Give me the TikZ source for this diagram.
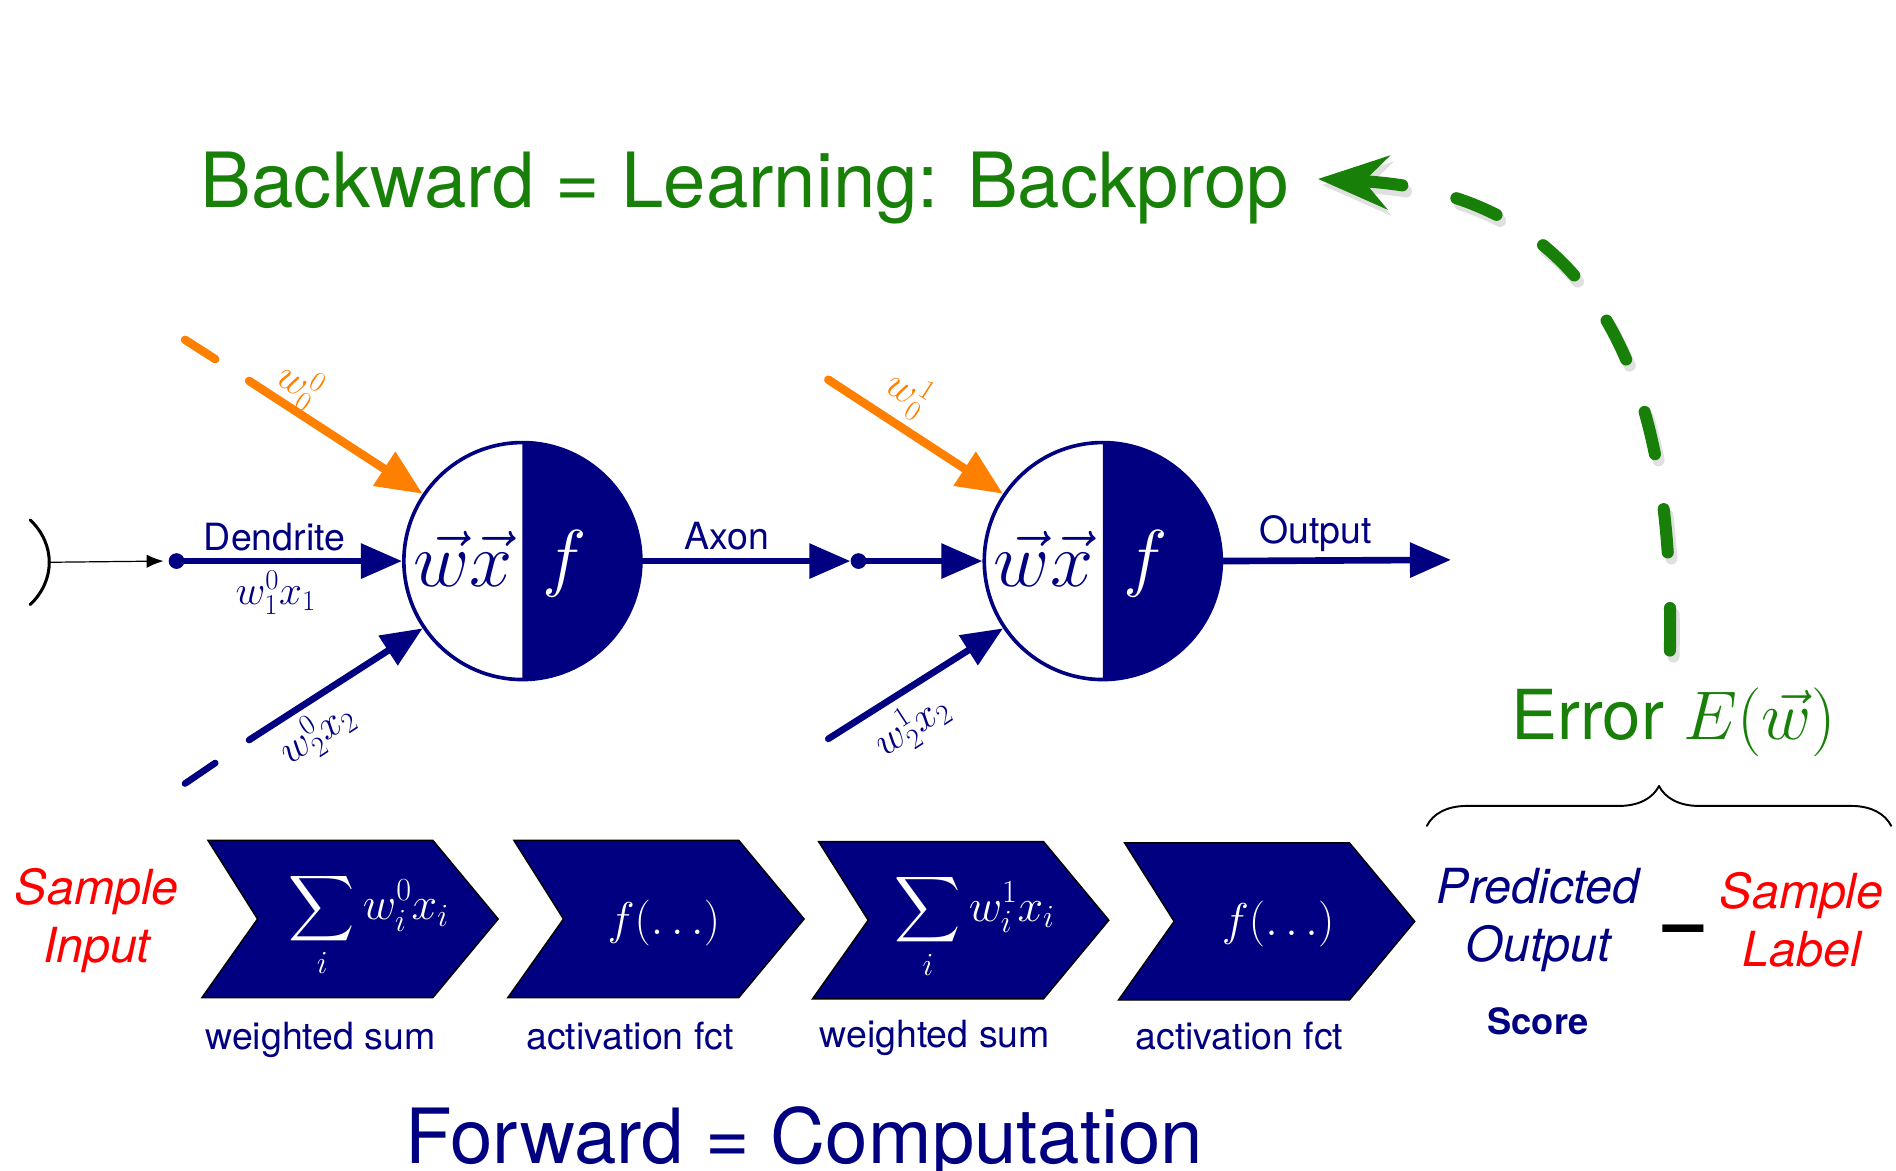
\RequirePackage{fix-cm}
\documentclass[tikz,border=0pt]{standalone}
\DeclareFontShape{OMX}{cmex}{m}{n}{<-> cmex10}{}
\usepackage{fontspec}
\setsansfont{TeX Gyre Heros}
\usetikzlibrary{arrows.meta,decorations.pathreplacing,positioning}

\definecolor{navy}{RGB}{0,0,128}
\definecolor{bporange}{RGB}{255,128,0}
\definecolor{bpgreen}{RGB}{24,128,8}
\definecolor{bpred}{RGB}{255,0,0}

\begin{document}
\begin{tikzpicture}[x=1pt, y=-1pt, line cap=round, line join=round,
  wire/.style={navy, line width=5.5pt, -{Triangle[length=34pt,width=28pt]}},
  bias/.style={bporange, line width=7pt, -{Triangle[length=38pt,width=32pt]}},
  neuron/.style={circle, draw=navy, fill=white, line width=3pt, minimum size=196pt, inner sep=0pt},
  dot/.style={circle, fill=navy, inner sep=0pt, minimum size=13pt},
  chevron/.style={fill=navy, draw=black, line width=1.2pt, line join=miter},
  lbl/.style={text=navy, font=\sffamily\fontsize{31}{37}\selectfont},
  wlbl/.style={font=\fontsize{34}{40}\selectfont},
  bigtext/.style={font=\sffamily\fontsize{63}{70}\selectfont},
  side/.style={align=center, font=\sffamily\itshape\fontsize{40}{48}\selectfont},
  cmath/.style={text=white, font=\fontsize{38}{44}\selectfont},
  backprop/.style={line width=10pt, dash pattern=on 36pt off 46pt}]

  %% ════ 标题 ════
  \node[bigtext, text=bpgreen, anchor=base] (title) at (616,172) {Backward = Learning: Backprop};
  \node[bigtext, text=navy, anchor=base] (forward) at (665,962) {Forward = Computation};

  %% ════ 神经元 ════
  \node[neuron] (n1) at (432,464) {};
  \fill[navy] (432,366) arc[start angle=-90, end angle=90, radius=98] -- cycle;
  \node[neuron] (n2) at (912,464) {};
  \fill[navy] (912,366) arc[start angle=-90, end angle=90, radius=98] -- cycle;
  \node[text=navy, font=\fontsize{64}{70}\selectfont] (n1wx) at (383,462) {$\vec{w}\vec{x}$};
  \node[text=white, font=\fontsize{62}{70}\selectfont] (n1f) at (467,466) {$f$};
  \node[text=navy, font=\fontsize{64}{70}\selectfont] (n2wx) at (863,462) {$\vec{w}\vec{x}$};
  \node[text=white, font=\fontsize{62}{70}\selectfont] (n2f) at (947,466) {$f$};

  %% ════ 输入 / Dendrite ════
  \draw[line width=2.5pt] (25,430) .. controls (46,450) and (46,480) .. (25,500);
  \coordinate (src) at (41,465);
  \node[dot] (d1) at (146,464) {};
  \draw[line width=1pt, -{Latex[length=14pt,width=11pt]}] (src) -- ([xshift=-4pt]d1.west);
  \draw[wire] (d1) -- (n1.west);
  \node[lbl] (dendrite) at (227,444) {Dendrite};
  \node[wlbl, text=navy] (w01) at (228,490) {$w_1^0x_1$};

  %% ════ 斜向输入 ════
  \draw[bporange, line width=7pt] (153,281) -- (178,297);
  \coordinate (b0s) at (206,315);
  \draw[bias] (b0s) -- (n1.146);
  \node[wlbl, text=bporange, rotate=-33] (w00) at (247,318) {$w_0^0$};
  \draw[navy, line width=5.5pt] (153,648) -- (178,631);
  \coordinate (x0s) at (206,612);
  \draw[wire] (x0s) -- (n1.214);
  \node[wlbl, text=navy, rotate=33] (w02) at (262,607) {$w_2^0x_2$};

  \coordinate (b1s) at (685,314);
  \draw[bias] (b1s) -- (n2.146);
  \node[wlbl, text=bporange, rotate=-33] (w10) at (751,325) {$w_0^1$};
  \coordinate (x1s) at (685,611);
  \draw[wire] (x1s) -- (n2.214);
  \node[wlbl, text=navy, rotate=33] (w12) at (754,600) {$w_2^1x_2$};

  %% ════ Axon / Output ════
  \node[dot] (d2) at (710,464) {};
  \draw[wire] (n1.east) -- (d2.west);
  \draw[wire] (d2) -- (n2.west);
  \node[lbl] (axon) at (601,443) {Axon};
  \coordinate (out) at (1200,463);
  \draw[wire] (n2.east) -- (out);
  \node[lbl] (output) at (1088,441) {Output};

  %% ════ 反向箭头 ════
  \coordinate (bwtip) at (1090,148);
  \coordinate (errtop) at (1381,538);
  \draw[backprop, black!12, {Stealth[length=58pt,width=44pt,inset=20pt]}-]
    ([shift={(3,5)}]bwtip) .. controls (1333,165) and (1388,335) .. ([shift={(3,5)}]errtop);
  \draw[backprop, bpgreen, {Stealth[length=58pt,width=44pt,inset=20pt]}-]
    (bwtip) .. controls (1330,160) and (1385,330) .. (errtop);

  %% ════ Error ════
  \node[text=bpgreen, font=\sffamily\fontsize{57}{63}\selectfont] (err) at (1384,597) {Error $E(\vec{w})$};
  \draw[decorate, decoration={brace, amplitude=33pt}, line width=1.6pt] (1180,683) -- (1564,683);

  %% ════ 流程箭头 ════
  \path[chevron] (172,695) -- (358,695) -- (412,760) -- (358,825) -- (167,825) -- (213,760) -- cycle;
  \path[chevron] (425,695) -- (611,695) -- (665,760) -- (611,825) -- (420,825) -- (466,760) -- cycle;
  \path[chevron] (677,696) -- (863,696) -- (917,761) -- (863,826) -- (672,826) -- (718,761) -- cycle;
  \path[chevron] (930,697) -- (1116,697) -- (1170,762) -- (1116,827) -- (925,827) -- (971,762) -- cycle;
  \node[cmath] (c1txt) at (305,765) {$\displaystyle\sum_i w_i^0x_i$};
  \node[cmath] (c2txt) at (549,763) {$f(\dots)$};
  \node[cmath] (c3txt) at (806,766) {$\displaystyle\sum_i w_i^1x_i$};
  \node[cmath] (c4txt) at (1057,764) {$f(\dots)$};
  \node[lbl] (c1lbl) at (265,860) {weighted sum};
  \node[lbl] (c2lbl) at (521,857) {activation fct};
  \node[lbl] (c3lbl) at (773,858) {weighted sum};
  \node[lbl] (c4lbl) at (1025,857) {activation fct};

  %% ════ 两侧文字 ════
  \node[side, text=bpred] (sinput) at (80,761) {Sample\\Input};
  \node[side, text=navy] (pred) at (1272,761) {Predicted\\Output};
  \node[text=navy, font=\sffamily\bfseries\fontsize{30}{36}\selectfont] (score) at (1272,845) {Score};
  \node[font=\sffamily\bfseries\fontsize{60}{70}\selectfont] (minus) at (1392,774) {–};
  \node[side, text=bpred] (slabel) at (1490,761) {Sample\\Label};

  % 钉死画布
  \pgfresetboundingbox
  \path[use as bounding box] (0,0) rectangle (1568,968);
\end{tikzpicture}
\end{document}
